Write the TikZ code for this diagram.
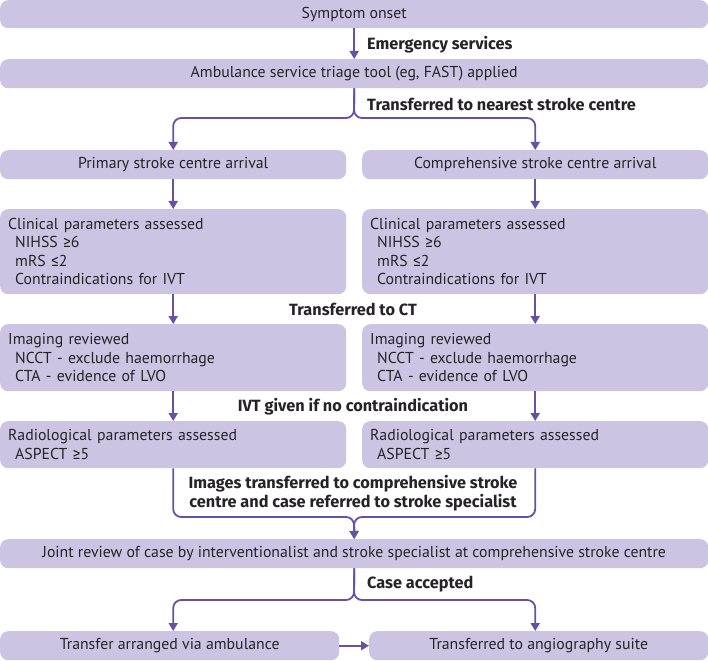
\documentclass[tikz,border=0pt]{standalone}
\usepackage{fontspec}
\setmainfont{PT Sans}
\newfontfamily\labfont{Fira Sans}
\newcommand{\gesym}{{\labfont ≥}}
\newcommand{\lesym}{{\labfont ≤}}
\usetikzlibrary{arrows.meta,calc}
\definecolor{boxfill}{HTML}{CBC4E3}
\definecolor{linec}{HTML}{6651A6}
\definecolor{textc}{HTML}{262326}
\begin{document}
\begin{tikzpicture}[x=1pt,y=-1pt,
 box/.style={fill=boxfill, rounded corners=8pt, inner sep=0pt, text=textc, font=\fontsize{15.8}{18.5}\selectfont, anchor=north west},
 lbox/.style={box, align=left, inner xsep=8pt, inner ysep=0pt, text width=330pt},
 lab/.style={text=textc, font=\labfont\bfseries\fontsize{16.3}{19}\selectfont, inner sep=0pt},
 conn/.style={draw=linec, line width=1.8pt, rounded corners=8pt, -{Triangle[length=8pt,width=9pt]}}]
\useasboundingbox (0,0) rectangle (708,660);
\node[box, minimum width=708pt, minimum height=28pt] (onset) at (0,0) {Symptom onset};
\node[box, minimum width=708pt, minimum height=29pt] (amb) at (0,59) {Ambulance service triage tool (eg, FAST) applied};
\node[box, minimum width=346pt, minimum height=29pt] (prim) at (0,150) {Primary stroke centre arrival};
\node[box, minimum width=346pt, minimum height=29pt] (comp) at (362,150) {Comprehensive stroke centre arrival};
\node[lbox, minimum height=85pt] (clinL) at (0,209) {Clinical parameters assessed\\\hspace*{7pt}NIHSS \gesym6\\\hspace*{7pt}mRS \lesym2\\\hspace*{7pt}Contraindications for IVT};
\node[lbox, minimum height=85pt] (clinR) at (362,209) {Clinical parameters assessed\\\hspace*{7pt}NIHSS \gesym6\\\hspace*{7pt}mRS \lesym2\\\hspace*{7pt}Contraindications for IVT};
\node[lbox, minimum height=67pt] (imgL) at (0,324) {Imaging reviewed\\\hspace*{7pt}NCCT - exclude haemorrhage\\\hspace*{7pt}CTA - evidence of LVO};
\node[lbox, minimum height=67pt] (imgR) at (362,324) {Imaging reviewed\\\hspace*{7pt}NCCT - exclude haemorrhage\\\hspace*{7pt}CTA - evidence of LVO};
\node[lbox, minimum height=47pt] (radL) at (0,421) {Radiological parameters assessed\\\hspace*{7pt}ASPECT \gesym5};
\node[lbox, minimum height=47pt] (radR) at (362,421) {Radiological parameters assessed\\\hspace*{7pt}ASPECT \gesym5};
\node[box, minimum width=708pt, minimum height=29pt] (joint) at (0,539) {Joint review of case by interventionalist and stroke specialist at comprehensive stroke centre};
\node[box, minimum width=339pt, minimum height=29pt] (transL) at (0,631) {Transfer arranged via ambulance};
\node[box, minimum width=339pt, minimum height=29pt] (transR) at (369,631) {Transferred to angiography suite};

\coordinate (j1) at (354,118);
\coordinate (j2) at (354,517);
\coordinate (j3) at (354,600);

\draw[conn] (onset.south) -- (amb.north);
\draw[conn] (amb.south) -- (j1) -| (prim.north);
\draw[conn] (amb.south) -- (j1) -| (comp.north);
\draw[conn] (prim.south) -- (clinL.north -| prim.south);
\draw[conn] (comp.south) -- (clinR.north -| comp.south);
\draw[conn] (clinL.south -| prim.south) -- (imgL.north -| prim.south);
\draw[conn] (clinR.south -| comp.south) -- (imgR.north -| comp.south);
\draw[conn] (imgL.south -| prim.south) -- (radL.north -| prim.south);
\draw[conn] (imgR.south -| comp.south) -- (radR.north -| comp.south);
\draw[conn] (radL.south -| prim.south) |- (j2) -- (joint.north);
\draw[conn] (radR.south -| comp.south) |- (j2) -- (joint.north);
\draw[conn] (joint.south) -- (j3) -| (transL.north -| prim.south);
\draw[conn] (joint.south) -- (j3) -| (transR.north -| comp.south);
\draw[conn] (transL.east) -- (transR.west);

\node[lab, anchor=west] (l1) at (367,45) {Emergency services};
\node[lab, anchor=west] (l2) at (367,104) {Transferred to nearest stroke centre};
\node[lab] (l3) at (353,309) {Transferred to CT};
\node[lab] (l4) at (353,407) {IVT given if no contraindication};
\node[lab, align=center] (l5) at (353,493.5) {Images transferred to comprehensive stroke\\centre and case referred to stroke specialist};
\node[lab, anchor=west] (l6) at (367,584) {Case accepted};
\end{tikzpicture}
\end{document}
